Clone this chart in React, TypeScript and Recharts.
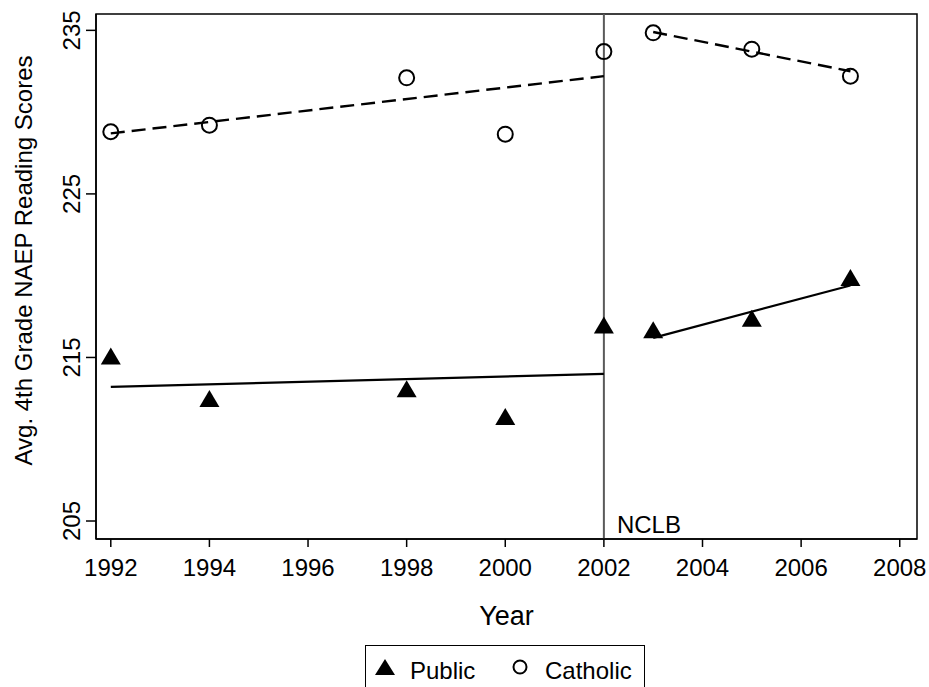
import {
  ComposedChart,
  Scatter,
  Line,
  XAxis,
  YAxis,
  ReferenceLine,
  ReferenceArea,
} from "recharts"

const FONT = "'Liberation Sans', Arial, sans-serif"

// NAEP 4th grade reading
const years = [1992, 1994, 1998, 2000, 2002, 2003, 2005, 2007]
const publicScores = [215.0, 212.4, 213.0, 211.3, 216.9, 216.6, 217.3, 219.8]
const catholicScores = [228.8, 229.2, 232.1, 228.65, 233.7, 234.85, 233.85, 232.2]

// fitted trend segments, before and after NCLB
const preFitYears = [1992, 2002]
const postFitYears = [2003, 2007]
const publicPreFit = [213.2, 214.0]
const publicPostFit = [216.2, 219.4]
const catholicPreFit = [228.7, 232.2]
const catholicPostFit = [234.9, 232.5]

const xTicks = [1992, 1994, 1996, 1998, 2000, 2002, 2004, 2006, 2008]
const yTicks = [205, 215, 225, 235]
const xDomain: [number, number] = [1991.7, 2008.35]
const yDomain: [number, number] = [203.9, 236]

const toRows = (xs: number[], ys: number[]) => xs.map((year, i) => ({ year, score: ys[i] }))

const publicData = toRows(years, publicScores)
const catholicData = toRows(years, catholicScores)

const Triangle = (props: any) => {
  const { cx, cy } = props
  if (cx == null || cy == null) return null
  return <polygon points={`${cx},${cy - 10} ${cx - 10},${cy + 7} ${cx + 10},${cy + 7}`} fill="#000" />
}

const OpenCircle = (props: any) => {
  const { cx, cy } = props
  if (cx == null || cy == null) return null
  return <circle cx={cx} cy={cy} r={7.5} fill="none" stroke="#000" strokeWidth={2} />
}

const XTick = (props: any) => {
  const { x, y, payload } = props
  return (
    <text x={x} y={y + 29} textAnchor="middle" fontSize={24} fontFamily={FONT} fill="#000">
      {payload.value}
    </text>
  )
}

const YTick = (props: any) => {
  const { x, y, payload } = props
  return (
    <text
      x={x}
      y={y}
      transform={`rotate(-90, ${x}, ${y})`}
      textAnchor="middle"
      fontSize={24}
      fontFamily={FONT}
      fill="#000"
    >
      {payload.value}
    </text>
  )
}

function LegendBox() {
  return (
    <div
      style={{
        position: "absolute",
        left: 365,
        top: 645,
        width: 278,
        height: 60,
        border: "1px solid #000",
        background: "#fff",
        fontFamily: FONT,
        fontSize: 24,
      }}
    >
      <svg width={278} height={60} style={{ position: "absolute", left: 0, top: 0 }}>
        <polygon points="19,13 9,29 29,29" fill="#000" />
        <text x={44} y={33} fontSize={24} fontFamily={FONT}>Public</text>
        <circle cx={154} cy={21} r={6.5} fill="none" stroke="#000" strokeWidth={2} />
        <text x={179} y={33} fontSize={24} fontFamily={FONT}>Catholic</text>
      </svg>
    </div>
  )
}

export default function App() {
  return (
    <div style={{ position: "absolute", left: 0, top: 0, width: 929, height: 687, overflow: "hidden", background: "#fff" }}>
      <ComposedChart width={929} height={687} margin={{ top: 14, right: 12, bottom: 0, left: 0 }}>
        <XAxis
          dataKey="year"
          type="number"
          domain={xDomain}
          ticks={xTicks}
          allowDataOverflow
          height={148}
          tickSize={8}
          tickMargin={0}
          tick={<XTick />}
          stroke="#000"
          strokeWidth={1.5}
          label={({ viewBox }: any) => (
            <text
              x={viewBox.x + viewBox.width / 2}
              y={viewBox.y + 86}
              textAnchor="middle"
              fontSize={27}
              fontFamily={FONT}
              fill="#000"
            >
              Year
            </text>
          )}
        />
        <YAxis
          type="number"
          domain={yDomain}
          ticks={yTicks}
          allowDataOverflow
          width={96}
          tickSize={10}
          tickMargin={6}
          tick={<YTick />}
          stroke="#000"
          strokeWidth={1.5}
          label={({ viewBox }: any) => {
            const cx = 32
            const cy = viewBox.y + viewBox.height / 2 - 16
            return (
              <text
                x={cx}
                y={cy}
                transform={`rotate(-90, ${cx}, ${cy})`}
                textAnchor="middle"
                fontSize={24}
                fontFamily={FONT}
                fill="#000"
              >
                Avg. 4th Grade NAEP Reading Scores
              </text>
            )
          }}
        />
        <ReferenceArea
          x1={xDomain[0]}
          x2={xDomain[1]}
          y1={yDomain[0]}
          y2={yDomain[1]}
          fill="none"
          stroke="#000"
          strokeWidth={1.5}
        />
        <ReferenceLine
          x={2002}
          stroke="#5a5a5a"
          strokeWidth={2}
          label={({ viewBox }: any) => (
            <text
              x={viewBox.x + 13}
              y={viewBox.y + viewBox.height - 6}
              fontSize={24}
              fontFamily={FONT}
              fill="#000"
            >
              NCLB
            </text>
          )}
        />
        <Line data={toRows(preFitYears, publicPreFit)} dataKey="score" type="linear" stroke="#000" strokeWidth={2.2} dot={false} isAnimationActive={false} />
        <Line data={toRows(postFitYears, publicPostFit)} dataKey="score" type="linear" stroke="#000" strokeWidth={2.2} dot={false} isAnimationActive={false} />
        <Line data={toRows(preFitYears, catholicPreFit)} dataKey="score" type="linear" stroke="#000" strokeWidth={2.4} strokeDasharray="14 7" dot={false} isAnimationActive={false} />
        <Line data={toRows(postFitYears, catholicPostFit)} dataKey="score" type="linear" stroke="#000" strokeWidth={2.4} strokeDasharray="14 7" dot={false} isAnimationActive={false} />
        <Scatter data={publicData} dataKey="score" shape={<Triangle />} isAnimationActive={false} />
        <Scatter data={catholicData} dataKey="score" shape={<OpenCircle />} isAnimationActive={false} />
      </ComposedChart>
      <LegendBox />
    </div>
  )
}
